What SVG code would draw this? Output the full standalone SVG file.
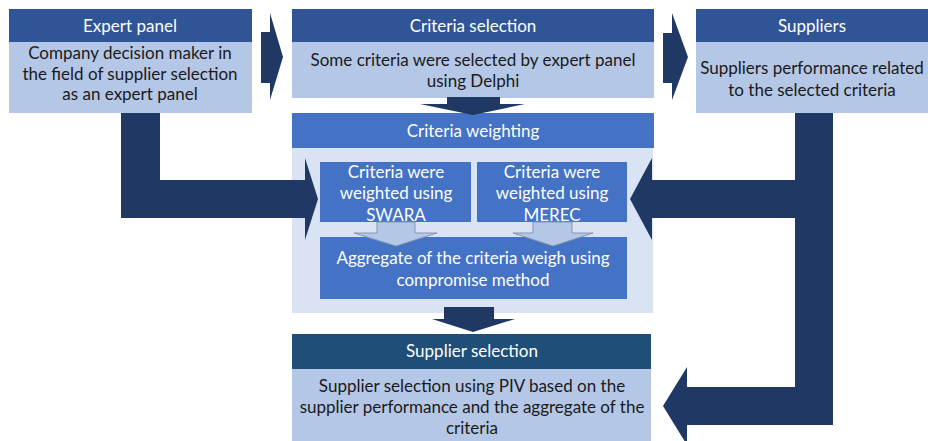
<svg xmlns="http://www.w3.org/2000/svg" width="928" height="441" viewBox="0 0 928 441">
<style>
  text { font-family: Lato, "Open Sans", "Liberation Sans", sans-serif; font-size: 17px; text-anchor: middle; }
  .hd { fill: #ffffff; }
  .bd { fill: #1a1a1a; }
  .wt { fill: #ffffff; }
  .h1 { fill: #2F5597; }
  .h2 { fill: #4472C4; }
  .h3 { fill: #1F4E79; }
  .body { fill: #B4C7E7; }
  .panel { fill: #DAE3F3; }
  .arr { fill: #203864; }
  .small { fill: #B4C7E7; stroke: #8497B0; stroke-width: 1; }
</style>
<rect width="928" height="441" fill="#ffffff"/>

<g id="expert-panel">
  <rect class="h1" x="9" y="9" width="243" height="33"/>
  <rect class="body" x="9" y="42" width="243" height="71"/>
  <text class="hd" x="130" y="32">Expert panel</text>
  <text class="bd" x="130" y="59">Company decision maker in</text>
  <text class="bd" x="130" y="80">the field of supplier selection</text>
  <text class="bd" x="130" y="100">as an expert panel</text>
</g>

<g id="criteria-selection">
  <rect class="h1" x="292" y="9" width="362" height="33"/>
  <rect class="body" x="292" y="42" width="362" height="56"/>
  <text class="hd" x="473" y="32">Criteria selection</text>
  <text class="bd" x="473" y="66">Some criteria were selected by expert panel</text>
  <text class="bd" x="473" y="87">using Delphi</text>
</g>

<g id="suppliers">
  <rect class="h1" x="696" y="9" width="232" height="33"/>
  <rect class="body" x="696" y="42" width="232" height="71"/>
  <text class="hd" x="812" y="32">Suppliers</text>
  <text class="bd" x="812" y="74">Suppliers performance related</text>
  <text class="bd" x="812" y="96">to the selected criteria</text>
</g>

<g id="criteria-weighting">
  <rect class="panel" x="292" y="148" width="361" height="165"/>
  <rect class="h2" x="292" y="113" width="362" height="35"/>
  <text class="hd" x="473" y="137">Criteria weighting</text>
</g>

<g id="swara">
  <rect class="h2" x="320" y="162" width="151" height="60"/>
  <text class="wt" x="396" y="178">Criteria were</text>
  <text class="wt" x="396" y="199">weighted using</text>
  <text class="wt" x="396" y="221">SWARA</text>
</g>

<g id="merec">
  <rect class="h2" x="477" y="162" width="150" height="60"/>
  <text class="wt" x="552" y="178">Criteria were</text>
  <text class="wt" x="552" y="199">weighted using</text>
  <text class="wt" x="552" y="221">MEREC</text>
</g>

<g id="aggregate">
  <rect class="h2" x="320" y="237" width="307" height="62"/>
  <text class="wt" x="473" y="264">Aggregate of the criteria weigh using</text>
  <text class="wt" x="473" y="286">compromise method</text>
</g>

<g id="supplier-selection">
  <rect class="h3" x="292" y="334" width="359" height="35"/>
  <rect class="body" x="292" y="369" width="359" height="72"/>
  <text class="hd" x="472" y="357">Supplier selection</text>
  <text class="bd" x="472" y="392">Supplier selection using PIV based on the</text>
  <text class="bd" x="472" y="413">supplier performance and the aggregate of the</text>
  <text class="bd" x="472" y="434">criteria</text>
</g>

<g id="connectors">
  <!-- expert panel -> criteria selection -->
  <polygon class="arr" points="261,32 270,32 270,13 283,57 270,100 270,83 261,83"/>
  <!-- criteria selection -> suppliers -->
  <polygon class="arr" points="663,33 672,33 672,13 688,57 672,100 672,83 663,83"/>
  <!-- criteria selection -> criteria weighting -->
  <polygon class="arr" points="447,97 500,97 500,104 525,104 473,115 420,104 447,104"/>
  <!-- expert panel -> SWARA (L shape) -->
  <polygon class="arr" points="121,113 160,113 160,180 305,180 305,158 318,199 305,240 305,218 121,218"/>
  <!-- suppliers -> MEREC and supplier selection -->
  <polygon class="arr" points="795,113 833,113 833,425 687,425 687,445 663,406 687,367 687,387 795,387 795,218 652,218 652,240 630,199 652,158 652,180 795,180"/>
  <!-- SWARA -> aggregate -->
  <polygon class="small" points="377,222 415,222 415,233 437,233 396,246 354,233 377,233"/>
  <!-- MEREC -> aggregate -->
  <polygon class="small" points="533,222 572,222 572,233 593,233 553,246 513,233 533,233"/>
  <!-- weighting -> supplier selection -->
  <polygon class="arr" points="444,307 494,307 494,319 515,319 473,332 432,319 444,319"/>
</g>
</svg>
